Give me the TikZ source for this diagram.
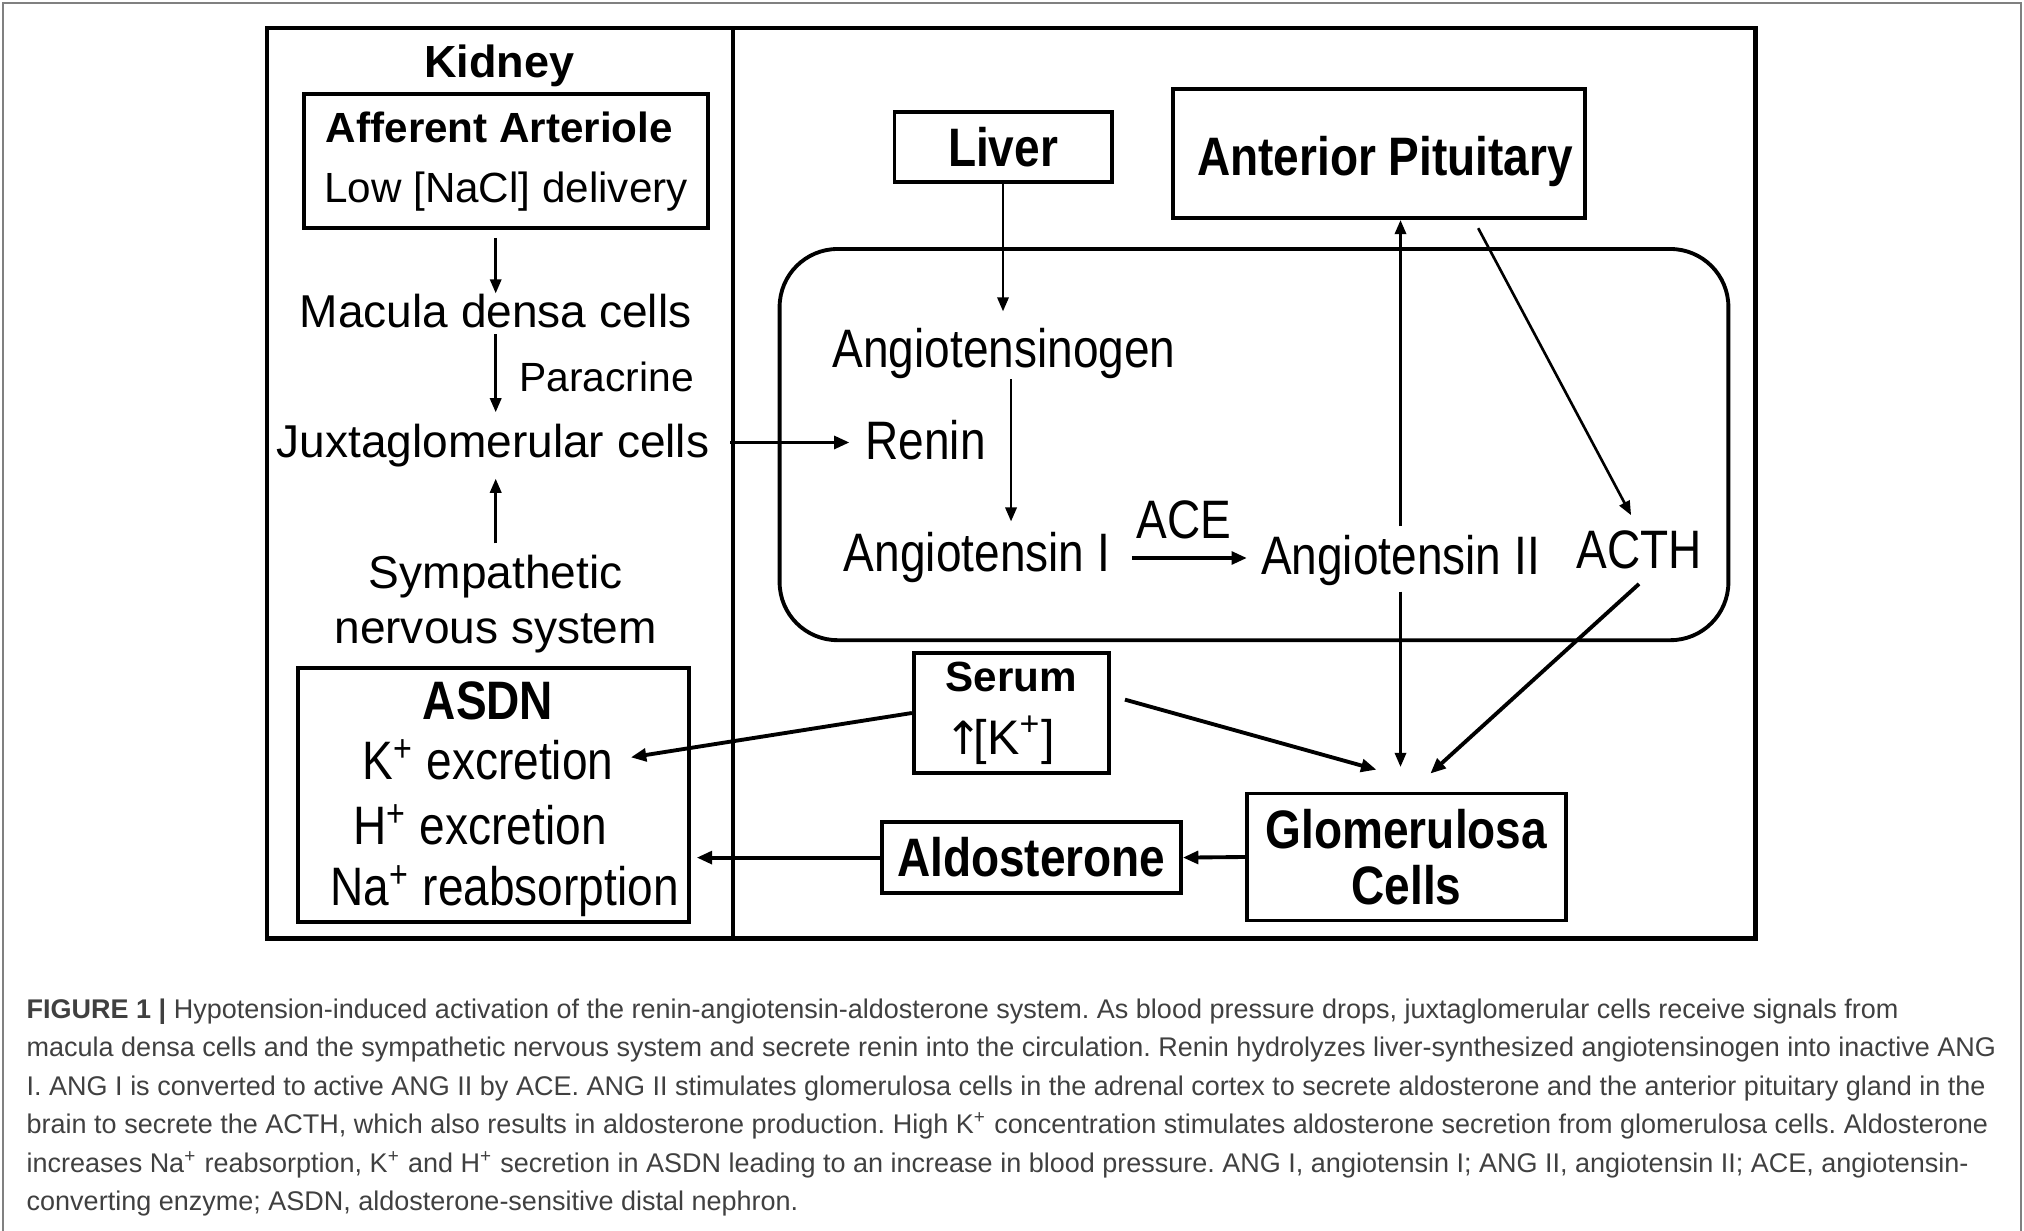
\documentclass[tikz,border=0pt]{standalone}
\usepackage{fontspec}
\setmainfont{Liberation Sans}
\newfontfamily\narrowfont[FakeStretch=0.85]{Liberation Sans}
\newfontfamily\symbfont{DejaVu Sans}
\usetikzlibrary{arrows.meta}

\tikzset{
  box/.style={draw, line width=1.1pt, inner sep=0pt},
  txt/.style={inner sep=0pt, font=\fontsize{13.1}{15.8}\selectfont},
  ntxt/.style={inner sep=0pt, font=\narrowfont\fontsize{15.4}{16}\selectfont},
  nbtxt/.style={inner sep=0pt, font=\narrowfont\bfseries\fontsize{15.4}{16}\selectfont},
  arr/.style={-{Triangle[length=4pt,width=3.2pt]}, line width=0.75pt},
  tarr/.style={-{Triangle[length=4.4pt,width=3.6pt]}, line width=1.1pt},
}

\begin{document}
\begin{tikzpicture}[x=0.01cm, y=-0.01cm]
    \useasboundingbox (0,0) rectangle (2024,1231);

    % 外框
    \draw[gray, line width=0.5pt] (3,1231) -- (3,3) -- (2021,3) -- (2021,1231);
    \draw[line width=1.2pt] (267,28.4) rectangle (1755.5,938.4);
    \draw[line width=1pt] (733,28.4) -- (733,938.4);
    \draw[line width=1.1pt, rounded corners=0.58cm] (779.6,249) rectangle (1728.4,640.2);

    % 肾脏
    \node[inner sep=0pt, font=\bfseries\fontsize{12.8}{15}\selectfont] (kidney) at (499.5,66) {Kidney};
    \node[box, minimum width=4.03cm, minimum height=1.34cm, align=center, font=\fontsize{12}{17}\selectfont] (aff) at (506,161.4) {\hspace*{-0.13cm}\textbf{Afferent Arteriole}\\Low [NaCl] delivery};
    \node[txt] (macula) at (495.7,311) {Macula densa cells};
    \node[inner sep=0pt, font=\fontsize{11.6}{14}\selectfont] (paracrine) at (606.7,377) {Paracrine};
    \node[txt] (juxta) at (493,446) {Juxtaglomerular cells};
    \node[txt, align=center] (symp) at (495.7,604) {Sympathetic\\nervous system};

    % ASDN
    \node[box, minimum width=3.91cm, minimum height=2.53cm] (asdn) at (493.5,795) {};
    \node[nbtxt] (asdntitle) at (488,701) {ASDN};
    \node[ntxt] (kex) at (488,760) {K\textsuperscript{+} excretion};
    \node[ntxt] (hex) at (480,825) {H\textsuperscript{+} excretion};
    \node[ntxt] (naex) at (504.7,891) {Na\textsuperscript{+} reabsorption};

    % 循环
    \node[box, nbtxt, minimum width=2.17cm, minimum height=0.70cm] (liver) at (1003,147.2) {Liver};
    \node[box, minimum width=4.12cm, minimum height=1.29cm] (antpit) at (1379,153.6) {};
    \node[nbtxt] (antpittxt) at (1385,161.5) {Anterior Pituitary};
    \node[ntxt] (angen) at (1004,353.5) {Angiotensinogen};
    \node[ntxt] (renin) at (925.5,440) {Renin};
    \node[ntxt] (angI) at (977,558) {Angiotensin I};
    \node[ntxt] (ace) at (1183.7,520) {ACE};
    \node[ntxt] (angII) at (1400.5,560.5) {Angiotensin II};
    \node[ntxt] (acth) at (1639,550) {ACTH};
    \node[box, ntxt, align=center, minimum width=1.95cm, minimum height=1.20cm, font=\fontsize{13.8}{18}\selectfont] (serum) at (1011.4,713) {{\bfseries\fontsize{12}{18}\selectfont Serum}\\{\symbfont\fontsize{13}{18}\selectfont ↑}\kern-2.5pt[K\textsuperscript{+}]\hspace*{0.24cm}};
    \node[box, nbtxt, align=center, minimum width=3.19cm, minimum height=1.27cm] (glom) at (1406.4,857) {Glomerulosa\\Cells};
    \node[box, nbtxt, minimum width=2.99cm, minimum height=0.71cm] (aldo) at (1031.3,857.6) {Aldosterone};

    % 箭头
    \draw[arr, shorten <=2.1pt] (aff.south -| macula) -- (macula.north);
    \draw[arr, shorten <=1.6pt, shorten >=3.3pt] (macula.south) -- (juxta.north -| macula.south);
    \draw[arr, shorten <=3pt, shorten >=3pt] (symp.north) -- (symp.north |- juxta.south);
    \draw[tarr, shorten <=5.7pt, shorten >=4.3pt] ([yshift=1pt]juxta.east) -- ([yshift=1pt]juxta.east -| renin.west);
    \draw[arr, shorten >=4.6pt] (liver.south) -- (liver.south |- angen.north);
    \draw[arr, shorten <=0pt, shorten >=3pt] ([xshift=2pt]angen.south) -- ([xshift=2pt]angen.south |- angI.north);
    \draw[tarr, shorten <=6pt, shorten >=3.8pt] (angI.east) -- (angI.east -| angII.west);
    \draw[arr, shorten <=2.4pt] (angII.north) -- (angII.north |- antpit.south);
    \draw[arr, shorten >=4.8pt] ([xshift=28.2pt, yshift=-2.3pt]antpit.south) -- (acth.north);
    \draw[tarr] ([yshift=-4pt]acth.south) -- ([xshift=6.8pt, yshift=5.1pt]glom.north);
    \draw[arr, shorten <=1.5pt] (angII.south) -- ([yshift=7pt]angII.south |- glom.north);
    \draw[tarr, shorten >=4.8pt] (serum.west) -- (kex.east);
    \draw[tarr] ([xshift=4pt, yshift=3.8pt]serum.east) -- ([xshift=-8.5pt, yshift=6.2pt]glom.north);
    \draw[tarr] (glom.west) -- (aldo.east);
    \draw[tarr, shorten >=1.6pt] (aldo.west) -- (aldo.west -| asdn.east);

    % 图注
    \node[anchor=north west, inner sep=0pt, align=left, text=black!75, font=\frenchspacing\fontsize{7.68}{10.95}\selectfont] (caption) at (26,998) {\textbf{FIGURE 1 |} Hypotension-induced activation of the renin-angiotensin-aldosterone system. As blood pressure drops, juxtaglomerular cells receive signals from\\
    macula densa cells and the sympathetic nervous system and secrete renin into the circulation. Renin hydrolyzes liver-synthesized angiotensinogen into inactive ANG\\
    I. ANG I is converted to active ANG II by ACE. ANG II stimulates glomerulosa cells in the adrenal cortex to secrete aldosterone and the anterior pituitary gland in the\\
    brain to secrete the ACTH, which also results in aldosterone production. High K\textsuperscript{+} concentration stimulates aldosterone secretion from glomerulosa cells. Aldosterone\\
    increases Na\textsuperscript{+} reabsorption, K\textsuperscript{+} and H\textsuperscript{+} secretion in ASDN leading to an increase in blood pressure. ANG I, angiotensin I; ANG II, angiotensin II; ACE, angiotensin-\\
    converting enzyme; ASDN, aldosterone-sensitive distal nephron.};
\end{tikzpicture}
\end{document}
